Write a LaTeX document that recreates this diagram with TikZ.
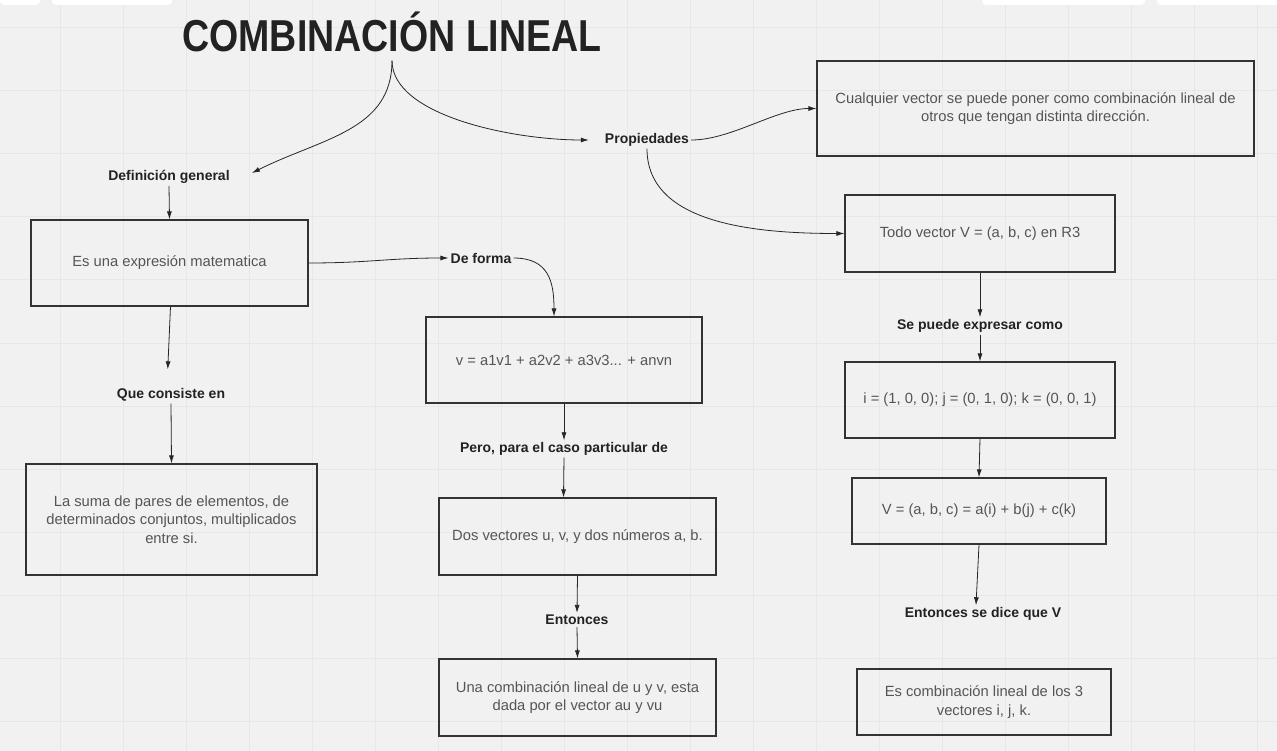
\documentclass[tikz,border=0pt]{standalone}
\usepackage{fontspec}
\setmainfont{Liberation Sans}
\usepackage{tikz}
\usepackage{xcolor}
\usetikzlibrary{calc,arrows.meta}
\definecolor{fondo}{HTML}{F1F1F1}
\definecolor{rejilla}{HTML}{E7E7E7}
\definecolor{borde}{HTML}{333333}
\definecolor{textocaja}{HTML}{555555}
\definecolor{etiq}{HTML}{222222}

\begin{document}
\begin{tikzpicture}[x=1pt,y=-1pt]
    \tikzstyle{caja}=[draw=borde, line width=1.2pt, text=textocaja, align=center, inner sep=0pt, font=\fontsize{14.75}{18.5}\selectfont]
    \tikzstyle{etiqueta}=[text=etiq, inner sep=2pt, font=\fontsize{14}{17}\selectfont\bfseries]
    \tikzstyle{flecha}=[draw=black!85, line width=0.8pt, -{Latex[length=8pt,width=5pt]}]
    \useasboundingbox (0,0) rectangle (1277,751);
    \fill[fondo] (0,0) rectangle (1277,751);
    \foreach \gx in {60,123,...,1277} \draw[rejilla, line width=1pt] (\gx,0) -- (\gx,751);
    \foreach \gy in {28,91,...,751} \draw[rejilla, line width=1pt] (0,\gy) -- (1277,\gy);
    \fill[white, rounded corners=4pt] (0,-10) rectangle (40,5);
    \fill[white, rounded corners=4pt] (52,-10) rectangle (172,5);
    \fill[white, rounded corners=4pt] (982,-10) rectangle (1145,5);
    \fill[white, rounded corners=4pt] (1157,-10) rectangle (1287,5);

    \node[text=etiq, inner sep=8pt, anchor=base, font=\fontsize{44.7}{50}\selectfont\bfseries] (tit) at (392,52) {\scalebox{0.84}[1]{COMBINACIÓN LINEAL}};

    \node[etiqueta] (defg) at (169,177) {Definición general};
    \node[caja, minimum width=277pt, minimum height=86pt] (expr) at (169.5,263) {Es una expresión matematica};
    \node[etiqueta] (forma) at (481,258) {De forma};
    \node[caja, minimum width=276pt, minimum height=86pt] (vform) at (564,360) {v = a1v1 + a2v2 + a3v3... + anvn};
    \node[etiqueta] (pero) at (564,449) {Pero, para el caso particular de};
    \node[caja, minimum width=277pt, minimum height=77pt] (dos) at (577.5,536.5) {Dos vectores u, v, y dos números a, b.};
    \node[etiqueta] (ent) at (577,620) {Entonces};
    \node[caja, minimum width=277pt, minimum height=77pt] (una) at (577.5,697.5) {Una combinación lineal de u y v, esta\\dada por el vector au y vu};
    \node[etiqueta] (que) at (171,395) {Que consiste en};
    \node[caja, minimum width=291pt, minimum height=111pt] (suma) at (171.5,519.5) {La suma de pares de elementos, de\\determinados conjuntos, multiplicados\\entre si.};

    \node[etiqueta] (prop) at (647,140) {Propiedades};
    \node[caja, minimum width=437pt, minimum height=95pt] (cual) at (1035.5,108.5) {Cualquier vector se puede poner como combinación lineal de\\otros que tengan distinta dirección.};
    \node[caja, minimum width=270pt, minimum height=77pt] (todo) at (980,233.5) {Todo vector V = (a, b, c) en R3};
    \node[etiqueta] (sepu) at (980,326) {Se puede expresar como};
    \node[caja, minimum width=270pt, minimum height=76pt] (ijk) at (980,400) {i = (1, 0, 0); j = (0, 1, 0); k = (0, 0, 1)};
    \node[caja, minimum width=254pt, minimum height=66pt] (V) at (979,511) {V = (a, b, c) = a(i) + b(j) + c(k)};
    \node[etiqueta] (entv) at (983,614) {Entonces se dice que V};
    \node[caja, minimum width=254pt, minimum height=66pt] (es) at (984,702) {Es combinación lineal de los 3\\vectores i, j, k.};

    \draw[flecha] (tit.south) .. controls +(0,70) and +(70,-35) .. ($(defg.east)+(20,-4)$);
    \draw[flecha, shorten >=14pt] (tit.south) .. controls +(0,55) and +(-90,0) .. (prop.west);
    \draw[flecha] (defg.south) -- (expr.north);
    \draw[flecha] (expr.east) .. controls +(60,0) and +(-60,0) .. (forma.west);
    \draw[flecha] (forma.east) .. controls +(35,0) and +(0,-35) .. ($(vform.north)+(-10,0)$);
    \draw[flecha, shorten >=17pt] ($(expr.south)+(1,0)$) -- ($(que.north)+(-4,0)$);
    \draw[flecha] (que.south) -- (suma.north);
    \draw[flecha] (vform.south) -- (pero.north);
    \draw[flecha] (pero.south) -- ($(dos.north)+(-14,0)$);
    \draw[flecha] (dos.south) -- (ent.north);
    \draw[flecha] (ent.south) -- (una.north);

    \draw[flecha] (prop.east) .. controls +(40,0) and +(-40,0) .. (cual.west);
    \draw[flecha] (prop.south) .. controls +(0,75) and +(-90,0) .. (todo.west);
    \draw[flecha] (todo.south) -- (sepu.north);
    \draw[flecha] (sepu.south) -- (ijk.north);
    \draw[flecha] (ijk.south) -- (V.north);
    \draw[flecha] (V.south) -- ($(entv.north)+(-7,0)$);
\end{tikzpicture}
\end{document}
